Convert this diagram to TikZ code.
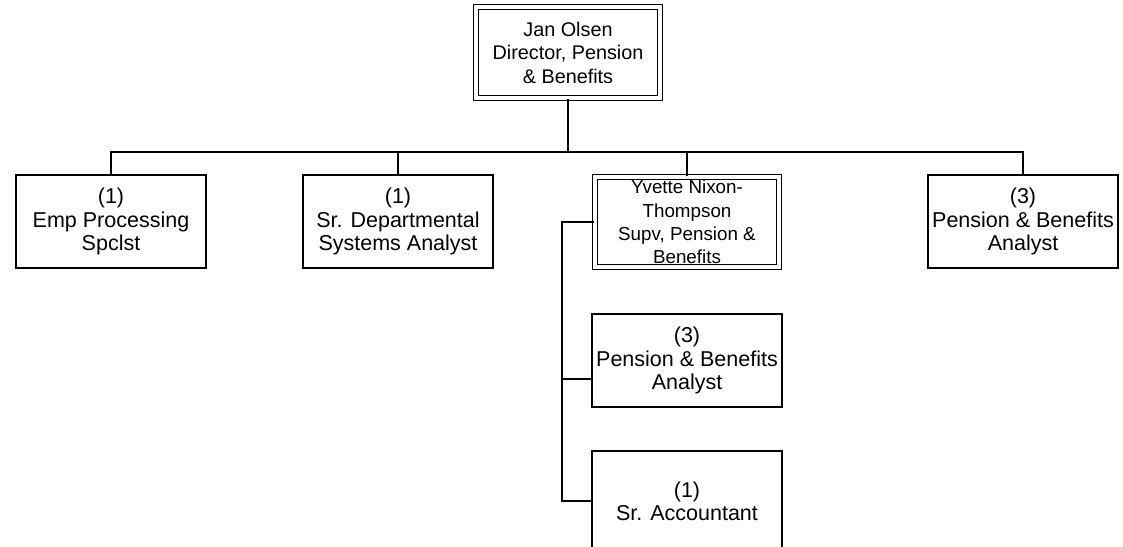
\documentclass[tikz,border=0pt]{standalone}
\usepackage{fontspec}
\setmainfont{Liberation Sans}
\begin{document}
\begin{tikzpicture}[x=1pt,y=-1pt,
  box/.style={draw, line width=1.6pt, minimum width=190.4pt, minimum height=93.4pt,
    align=center, inner sep=0pt, font=\fontsize{21.5}{23.2}\selectfont},
  dbox/.style={draw, line width=1.4pt, double=white, double distance=3.2pt,
    minimum width=184pt, minimum height=90pt, align=center, inner sep=0pt},
  conn/.style={line width=1.6pt}]
\clip (0,0) rectangle (1123,546);
\fill[white] (0,0) rectangle (1123,546);

\node[dbox, minimum width=184pt, minimum height=91pt,
  font=\fontsize{19.8}{23.5}\selectfont] (jan) at (568,52.5)
  {Jan Olsen\\Director, Pension\\\& Benefits};

\node[box] (emp) at (111,221.5) {(1)\\Emp Processing\\Spclst};
\node[box] (sda) at (398,221.5) {(1)\\Sr. Departmental\\Systems Analyst};
\node[dbox, font=\fontsize{18.8}{23.3}\selectfont] (yv) at (687,222)
  {Yvette Nixon-\\Thompson\\Supv, Pension \&\\Benefits};
\node[box] (pba) at (1023,221.5) {(3)\\Pension \& Benefits\\Analyst};

\node[box] (pb2) at (687,360.5) {(3)\\Pension \& Benefits\\Analyst};
\node[box, minimum height=100pt] (acc) at (687,501) {(1)\\Sr. Accountant};

\coordinate (bus) at (568,152);
\coordinate (spine) at (562,222);

\draw[conn] (jan.south) -- (bus);
\draw[conn] (emp.north) |- (bus) -| (pba.north);
\draw[conn] (sda.north) -- (sda.north |- bus);
\draw[conn] (yv.north) -- (yv.north |- bus);
\draw[conn] (yv.west |- spine) -- (spine) |- (acc.west);
\draw[conn] (spine |- pb2.west) ++(0,18.5) coordinate (pbj) -- (pbj -| pb2.west);
\end{tikzpicture}
\end{document}
